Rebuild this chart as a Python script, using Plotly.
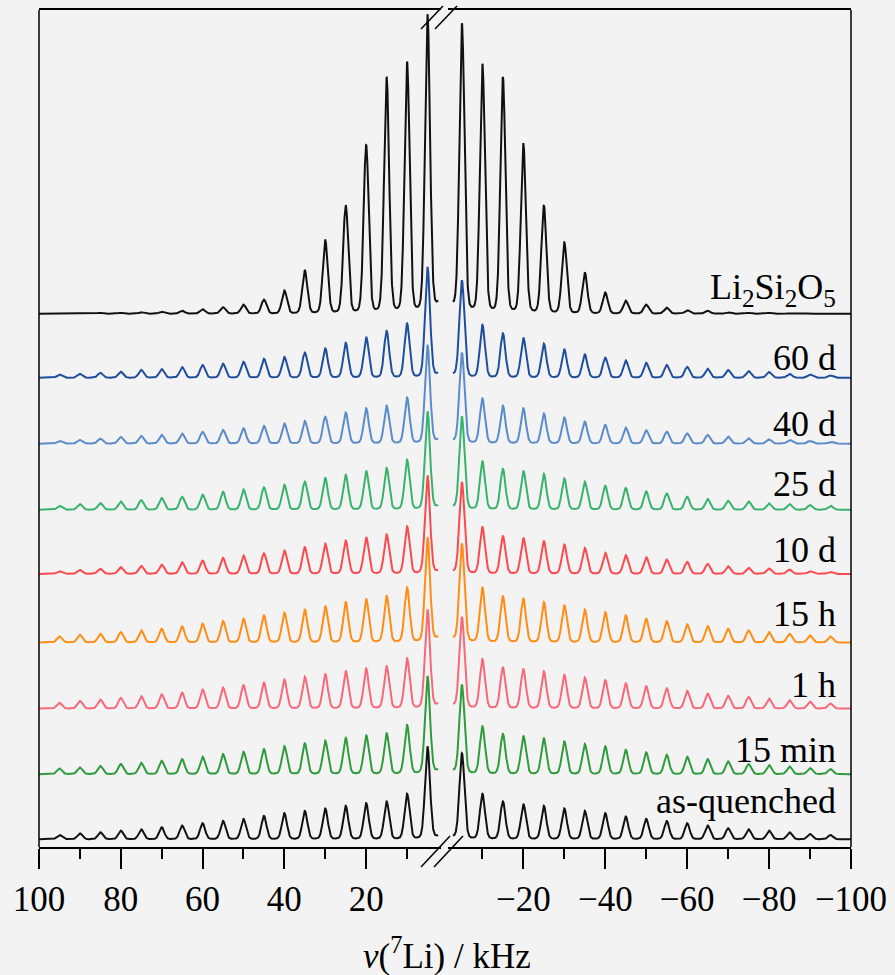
import numpy as np
import plotly.graph_objects as go

# ---------------- data ----------------
SAMPLES = ["Li2Si2O5", "60 d", "40 d", "25 d", "10 d", "15 h", "1 h", "15 min", "as-quenched"]
LABELS = ["Li<sub>2</sub>Si<sub>2</sub>O<sub>5</sub>", "60 d", "40 d", "25 d", "10 d",
          "15 h", "1 h", "15 min", "as-quenched"]

# spinning sidebands, kHz from the (cut) centre band
SIDEBAND_KHZ = [5, 10, 15, 20, 25, 30, 35, 40, 45, 50, 55, 60, 65, 70, 75, 80, 85, 90, 95]

# sideband heights (arbitrary units), inner -> outer, positive (+) and negative (-) side
LI2SI2O5_POS = [299, 251, 236, 168, 108, 73, 43, 23, 14, 9, 6.5, 4.5, 3, 2, 1.5, 1, 1, 0.5, 0]
LI2SI2O5_NEG = [290, 249, 236, 169, 108, 71, 41, 21, 13, 9, 6, 3.5, 3, 1.5, 1, 1, 0.5, 0.5, 0]
D60_POS = [110.7, 54, 46.7, 40.7, 35, 29.3, 25, 20.7, 19, 16, 14, 12.7, 10.7, 8.7, 8, 6, 5, 4, 3.3]
D60_NEG = [97.3, 52.7, 44.3, 40, 34, 28.3, 23.3, 20, 17.3, 15, 12.7, 11, 9, 7.7, 6.7, 5.7, 4, 3.3, 2.3]
D40_POS = [98.7, 46, 37.7, 35.3, 31, 26.7, 22.7, 20, 17.7, 15.3, 13.7, 11.7, 10, 8.7, 7.7, 6.7, 5, 3.7, 2.7]
D40_NEG = [91, 45, 37.7, 35.3, 30, 26, 22, 18.7, 16, 13.3, 12, 10.3, 8.7, 7, 5.3, 4.3, 3.7, 2.7, 2]
D25_POS = [98.3, 49.7, 41.7, 39, 35, 31.7, 28, 25, 22.3, 20.3, 18, 15, 13, 11.7, 9.7, 8.3, 6.7, 5.7, 4]
D25_NEG = [93.3, 48.3, 40.7, 39, 35.7, 31.3, 28, 24, 21.7, 18.3, 16.3, 13, 10.7, 9, 8.3, 6.3, 5.7, 4.7, 4]
D10_POS = [98.3, 47.3, 39.3, 36.7, 33.3, 30, 26.7, 23.3, 20.7, 18.3, 16, 13.3, 11.7, 9.3, 8, 6.7, 5, 4, 2.7]
D10_NEG = [91.7, 46.7, 37.7, 36, 32.7, 29.3, 26, 21, 18.7, 16.7, 14.3, 12, 10, 7.7, 6, 5.3, 4.3, 2.7, 2]
H15_POS = [105, 54.7, 46.3, 43.7, 40.3, 36.3, 32.7, 29.7, 27, 23.7, 21.3, 18.7, 16, 13.7, 12, 10.3, 8.7, 7.7, 6]
H15_NEG = [98.7, 54.7, 46, 43.7, 40.3, 37, 32.7, 30.3, 27, 23.7, 21.3, 18, 16.3, 13.7, 12, 10.3, 8.7, 7, 6]
H1_POS = [99, 50, 42.3, 40, 37.7, 34.3, 31.7, 29, 26, 23.3, 21, 19, 16, 14.3, 12.3, 10.7, 9, 7.7, 5.7]
H1_NEG = [91.7, 49.3, 41, 39.3, 37, 33.7, 31, 28.3, 25.3, 22.3, 20.3, 17.7, 15, 12.7, 11.7, 10, 8.3, 7, 5]
M15_POS = [98, 49, 40.7, 39, 36.3, 33.3, 30.7, 28, 25, 22.3, 20, 17.3, 15, 13.3, 11.3, 10, 8.3, 6.7, 5.7]
M15_NEG = [89.3, 47.7, 40, 38.3, 35.7, 32.7, 30, 27.7, 24.3, 21.7, 19.3, 17.3, 15, 12.7, 10, 9, 7.7, 6, 5]
AQ_POS = [92.7, 45.3, 37.7, 36, 33.3, 30.7, 28.3, 26, 23.3, 20.3, 18.3, 16, 13.7, 12, 10, 8.7, 7, 6, 4.3]
AQ_NEG = [86, 45.3, 37.7, 35.3, 33.3, 30.7, 28.3, 26, 22.7, 20.3, 18.3, 16, 13.7, 11, 10, 8.7, 7, 5.3, 4.3]

# height of the (cut off) centre-band tail where the trace meets the axis break
EDGE_TAIL = [8.5, 3.7, 3.5, 3.3, 2.5, 4.7, 4.0, 3.7, 2.8]

POS_SETS = [LI2SI2O5_POS, D60_POS, D40_POS, D25_POS, D10_POS, H15_POS, H1_POS, M15_POS, AQ_POS]
NEG_SETS = [LI2SI2O5_NEG, D60_NEG, D40_NEG, D25_NEG, D10_NEG, H15_NEG, H1_NEG, M15_NEG, AQ_NEG]

# ---------------- styling / layout ----------------
COLORS = ["#111111", "#1f4e9c", "#5b8bc8", "#38b26c", "#fb4a4f",
          "#ff8c14", "#f7687a", "#2f9b3c", "#111111"]
STACK_OFFSET = [534.5, 470.3, 404.3, 338.0, 273.7, 205.0, 138.7, 73.0, 7.7]
LABEL_CENTER_PX = [288, 357, 423.3, 483.3, 549.5, 613.3, 684.7, 750, 800.8]

BG = "#f3f3f3"
FONT = "Liberation Serif, Times New Roman, serif"
W, H = 895, 975
ML, MR, MT, MB = 39, 44, 8, 128
PW = W - ML - MR
PH = H - MT - MB
YMAX = PH

FWHM = 1.45
ETA = 0.12
CB_HW = 0.6
LEFT_END, RIGHT_START = 2.4, -2.8


def px2paper(xp, yp):
    return (xp - ML) / PW, (H - MB - yp) / PH


def profile(dx):
    sig = FWHM / 2.3548
    g = np.exp(-dx ** 2 / (2 * sig ** 2))
    lor = 1.0 / (1.0 + (dx / (FWHM / 2)) ** 2)
    return ETA * lor + (1 - ETA) * g


def spectrum(x, pos_h, neg_h, edge):
    cb_h = edge * (1 + (2.6 / CB_HW) ** 2)
    cb = lambda z: cb_h / (1 + (z / CB_HW) ** 2)
    y = cb(x)
    for c, hp, hn in zip(SIDEBAND_KHZ, pos_h, neg_h):
        y = y + max(hp - cb(c), 0) * profile(x - c)
        y = y + max(hn - cb(-c), 0) * profile(x + c)
    return y


x_left = np.linspace(100, LEFT_END, 2400)
x_right = np.linspace(RIGHT_START, -100, 2400)

fig = go.Figure()
for i, name in enumerate(SAMPLES):
    yl = spectrum(x_left, POS_SETS[i], NEG_SETS[i], EDGE_TAIL[i]) + STACK_OFFSET[i]
    yr = spectrum(x_right, POS_SETS[i], NEG_SETS[i], EDGE_TAIL[i]) + STACK_OFFSET[i]
    fig.add_trace(go.Scatter(x=x_left, y=yl, mode="lines", xaxis="x", yaxis="y",
                             line=dict(color=COLORS[i], width=2.0), name=name,
                             showlegend=False, hoverinfo="skip"))
    fig.add_trace(go.Scatter(x=x_right, y=yr, mode="lines", xaxis="x2", yaxis="y",
                             line=dict(color=COLORS[i], width=2.0), name=name,
                             showlegend=False, hoverinfo="skip"))

axis_common = dict(
    showline=True, linecolor="black", linewidth=1.5, mirror=True,
    ticks="outside", ticklen=20, tickwidth=1.5, tickcolor="black",
    tick0=0, dtick=20, showgrid=False, zeroline=False,
    minor=dict(ticks="outside", ticklen=10, tickwidth=1.5, tickcolor="black",
               dtick=10, showgrid=False),
    tickfont=dict(family=FONT, size=35, color="black"),
    anchor="y",
)
dl = (441 - ML) / PW
dr = (448 - ML) / PW
fig.update_layout(
    width=W, height=H,
    margin=dict(l=ML, r=MR, t=MT, b=MB),
    paper_bgcolor=BG, plot_bgcolor=BG,
    showlegend=False,
    font=dict(family=FONT, size=34, color="black"),
    xaxis=dict(domain=[0, dl], range=[100, 1.7], **axis_common),
    xaxis2=dict(domain=[dr, 1], range=[-1.6, -100], **axis_common),
    yaxis=dict(range=[0, YMAX], visible=False, showgrid=False, zeroline=False),
)

shapes = []
# left and right frame lines
for xp in (0, 1):
    shapes.append(dict(type="line", xref="paper", yref="paper", x0=xp, x1=xp, y0=0, y1=1,
                       line=dict(color="black", width=1.5)))
# axis-break slashes (top and bottom)
for (x0, y0, x1, y1) in [(421, 27, 443, 4), (435, 27, 457, 4),
                         (421, 867, 450, 836), (434, 867, 463, 836)]:
    a0, b0 = px2paper(x0, y0)
    a1, b1 = px2paper(x1, y1)
    shapes.append(dict(type="line", xref="paper", yref="paper", x0=a0, y0=b0, x1=a1, y1=b1,
                       line=dict(color="black", width=1.5)))
fig.update_layout(shapes=shapes)

ann = []
lx, _ = px2paper(838, 0)
for i, lab in enumerate(LABELS):
    ann.append(dict(text=lab, xref="paper", yref="y", x=lx, y=(H - MB) - LABEL_CENTER_PX[i],
                    xanchor="right", yanchor="middle", showarrow=False,
                    font=dict(family=FONT, size=36, color="black")))
tx, ty = px2paper(447, 953.5)
ann.append(dict(text="<i>ν</i>(<sup>7</sup>Li) / kHz", xref="paper", yref="paper", x=tx, y=ty,
                xanchor="center", yanchor="middle", showarrow=False,
                font=dict(family=FONT, size=35, color="black")))
fig.update_layout(annotations=ann)

fig.write_html("out.html")
